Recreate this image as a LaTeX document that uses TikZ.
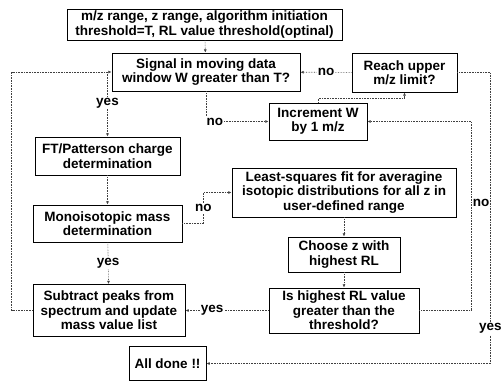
\documentclass[tikz,border=0pt]{standalone}
\usepackage{fontspec}
\setmainfont{Liberation Sans}
\usetikzlibrary{arrows.meta}

\tikzset{
  box/.style={draw, line width=0.9pt, align=center, inner sep=2pt,
    font=\bfseries\fontsize{13.5}{14.5}\selectfont},
  flow/.style={densely dotted, line width=0.6pt, draw=black!75,
    -{Latex[length=3.2pt,width=3pt]}},
  lab/.style={fill=white, inner sep=1pt,
    font=\bfseries\fontsize{13.5}{14.5}\selectfont}
}

\begin{document}
\begin{tikzpicture}[x=1pt, y=-1pt]
  \useasboundingbox (0,0) rectangle (501,383);

\node[box, minimum width=275pt, minimum height=31pt] (init) at (204.5, 24.5)
  {m/z range, z range, algorithm initiation\\threshold=T, RL value threshold(optinal)};
\node[box, minimum width=188pt, minimum height=38pt] (sig) at (206, 72)
  {Signal in moving data\\window W greater than T?};
\node[box, minimum width=105pt, minimum height=39pt] (reach) at (404.5, 72.5)
  {Reach upper\\m/z limit?};
\node[box, minimum width=98pt, minimum height=37pt] (incr) at (318, 121.5)
  {Increment W\\by 1 m/z};
\node[box, minimum width=145pt, minimum height=38pt] (ft) at (107.5, 156)
  {FT/Patterson charge\\determination};
\node[box, minimum width=149pt, minimum height=37pt] (mono) at (107.5, 223.5)
  {Monoisotopic mass\\determination};
\node[box, minimum width=224pt, minimum height=49pt] (least) at (344, 192.5)
  {Least-squares fit for averagine\\isotopic distributions for all z in\\user-defined range};
\node[box, minimum width=112pt, minimum height=35pt] (choose) at (344, 254.5)
  {Choose z with\\highest RL};
\node[box, minimum width=150pt, minimum height=45pt] (high) at (344, 310.5)
  {Is highest RL value\\greater than the\\threshold?};
\node[box, minimum width=152pt, minimum height=52pt] (sub) at (109, 310.5)
  {Subtract peaks from\\spectrum and update\\mass value list};
\node[box, minimum width=77pt, minimum height=34pt] (done) at (167.5, 363.5)
  {All done !!};

\coordinate (fork) at (ft.north |- sig.west);

\draw[flow] (init) -- (sig);
\draw[flow] (reach) -- node[lab]{no} (sig);
\draw[flow] (sig.south) |- node[lab, pos=0.57]{no} (incr.west);
\draw[flow] (sub.west) -- ++(-21,0) |- (sig.west);
\draw[flow] (fork) -- node[lab, pos=0.48]{yes} (ft.north);
\draw[flow] (ft) -- (mono);
\draw[flow] (mono) -- node[lab]{yes} (sub);
\draw[flow] (mono.east) -- ++(21,0) |- node[lab, pos=0.25]{no} (least.west);
\draw[flow] (least) -- (choose);
\draw[flow] (choose) -- (high);
\draw[flow] (high) -- node[lab, pos=0.68]{yes} (sub);
\draw[flow] (high.east) -- ++(52,0) |- node[lab, right, pos=0.285]{no} (incr.east);
\draw[flow] (incr.north) -- ++(0,-4) -| (reach.south);
\draw[flow] (reach.east) -- ++(33,0) |- node[lab, pos=0.44]{yes} (done.east);

\end{tikzpicture}
\end{document}
